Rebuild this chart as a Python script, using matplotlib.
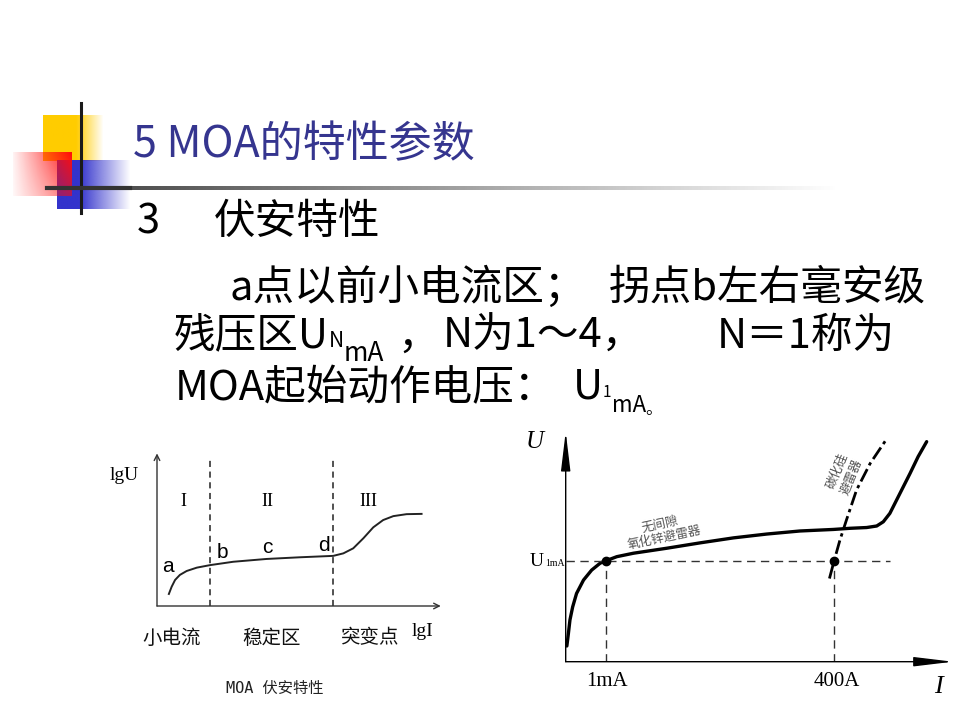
import numpy as np
import matplotlib
matplotlib.use("Agg")
import matplotlib.pyplot as plt

plt.rcParams['font.family'] = ['Noto Sans CJK SC', 'DejaVu Sans']

# left chart: MOA V-I characteristic (lgI, lgU), arbitrary units
lgI = [0.42, 0.52, 0.64, 0.81, 1.05, 1.41, 1.88, 2.70, 3.88, 5.06, 6.24,
       6.60, 6.95, 7.31, 7.66, 8.01, 8.37, 8.84, 9.37]
lgU = [0.43, 0.69, 0.93, 1.11, 1.25, 1.37, 1.46, 1.58, 1.68, 1.74, 1.79,
       1.88, 2.06, 2.42, 2.81, 3.07, 3.21, 3.28, 3.29]
region_bounds = [1.88, 6.24]
region_names = ['I', 'II', 'III']
region_x = [0.95, 3.9, 7.5]
point_names = ['a', 'b', 'c', 'd']
point_x = [0.4, 2.3, 3.9, 5.9]
point_y = [1.4, 1.9, 2.1, 2.15]
zone_names = ['小电流', '稳定区', '突变点']

# right chart: gapless ZnO arrester vs SiC arrester
I_zno = [0.03, 0.07, 0.11, 0.18, 0.28, 0.46, 0.67, 0.89, 1.03, 1.32, 1.75,
         2.61, 3.47, 4.33, 5.19, 6.05, 6.91, 7.34, 7.77, 8.03, 8.20, 8.37,
         8.63, 8.89, 9.10, 9.32]
U_zno = [0.41, 0.74, 1.09, 1.43, 1.78, 2.13, 2.39, 2.57, 2.63, 2.74, 2.83,
         2.96, 3.10, 3.23, 3.33, 3.41, 3.45, 3.48, 3.50, 3.54, 3.65, 3.87,
         4.39, 4.91, 5.35, 5.74]
I_sic = [6.81, 6.93, 7.08, 7.25, 7.51, 7.86, 8.26]
U_sic = [2.17, 2.63, 3.17, 3.70, 4.48, 5.17, 5.77]
I_1mA = 1.03
I_400A = 6.93
U_1mA = 2.63
U_line_end = 8.37

title_color = '#35358f'

fig = plt.figure(figsize=(9.6, 7.2), dpi=100)
fig.patch.set_facecolor('white')

# background layer in pixel coordinates
bg = fig.add_axes([0, 0, 1, 1])
bg.axis('off')


def grad_box(ax, x0, x1, y0, y1, rgb, a_left, a_right, solid=0.0,
             a_top=1.0, a_bot=1.0, z=1):
    nx, ny = 64, 32
    t = np.linspace(0, 1, nx)
    s = np.clip((t - solid) / (1 - solid), 0, 1)
    ax_ = (a_left + (a_right - a_left) * s)[None, :]
    ay_ = np.linspace(a_top, a_bot, ny)[:, None]
    img = np.zeros((ny, nx, 4))
    img[..., 0], img[..., 1], img[..., 2] = rgb
    img[..., 3] = np.clip(ax_ * ay_, 0, 1)
    ax.imshow(img, extent=[x0, x1, y1, y0], origin='upper', aspect='auto',
              interpolation='bilinear', zorder=z)


def after(prev, s, size, base_y, gap=0, **kw):
    # put a small text right after another one, on a given baseline (pixels)
    return bg.annotate(s, xy=(1, base_y), xycoords=(prev, 'data'),
                       xytext=(gap, 0), textcoords='offset points',
                       fontsize=size, va='baseline', ha='left', **kw)


# decorative squares
grad_box(bg, 43, 104, 115, 161, (1.0, 0.80, 0.0), 1.0, 0.0, solid=0.55, z=1)
grad_box(bg, 57, 131, 160, 209, (0.2, 0.2, 0.8), 1.0, 0.0, solid=0.3, z=2)
grad_box(bg, 13, 72, 152, 196, (1.0, 0.05, 0.05), 0.05, 1.0, 0.0, 1.0, 0.6, z=3)
bg.plot([81, 81], [103, 213], color='#1a1a1a', lw=2.2, zorder=5)
bg.plot([47, 130], [188, 188], color='#333333', lw=3, zorder=5)
# gradient rule under the title
line_img = np.ones((2, 200, 4))
line_img[..., :3] = 0.3
line_img[..., 3] = np.linspace(1.0, 0.0, 200)[None, :]
bg.imshow(line_img, extent=[120, 840, 190, 186], origin='upper', aspect='auto',
          interpolation='bilinear', zorder=4)

# slide text
fs = 30
bg.text(133, 145, '5 MOA的特性参数', fontsize=31, color=title_color, va='center')
bg.text(137, 222, '3', fontsize=fs, va='center')
bg.text(214, 222, '伏安特性', fontsize=fs, va='center')
bg.text(229, 288, 'a点以前小电流区；', fontsize=fs, va='center')
bg.text(609, 288, '拐点b左右毫安级', fontsize=fs, va='center')
t = bg.text(174, 336, '残压区U', fontsize=fs, va='center')
t = after(t, 'N', 15, 347)
t = after(t, 'mA', 19, 361)
bg.text(397, 338, '，', fontsize=fs, va='center')
bg.text(443, 336, 'N为1～4，', fontsize=fs, va='center')
bg.text(717, 336, 'N＝1称为', fontsize=fs, va='center')
bg.text(175, 389, 'MOA起始动作电压：', fontsize=fs, va='center')
t = bg.text(573, 387, 'U', fontsize=fs, va='center')
t = after(t, '1', 11, 397)
t = after(t, 'mA', 16, 412)
after(t, '。', 12, 414)

# ---- left chart ----
L = fig.add_axes([157 / 960, (720 - 606) / 720, 288 / 960, 154 / 720])
L.set_xlim(0, 10.2)
L.set_ylim(0, 5.5)
L.axis('off')
L.plot(lgI, lgU, color='#222222', lw=1.4)
for xb in region_bounds:
    L.plot([xb, xb], [0, 5.3], color='#222222', lw=1.1, ls=(0, (4, 3)))
L.annotate('', xy=(0, 5.45), xytext=(0, 0),
           arrowprops=dict(arrowstyle='->', color='#333333', lw=1.0,
                           shrinkA=0, shrinkB=0), annotation_clip=False)
L.annotate('', xy=(10.05, 0), xytext=(0, 0),
           arrowprops=dict(arrowstyle='->', color='#333333', lw=1.0,
                           shrinkA=0, shrinkB=0), annotation_clip=False)
for nm, x in zip(region_names, region_x):
    L.text(x, 3.75, nm, fontsize=13, family='Liberation Serif', ha='center', va='center')
for nm, x, y in zip(point_names, point_x, point_y):
    L.text(x, y, nm, fontsize=15, family='Liberation Sans', ha='center', va='center')

bg.text(110, 476, 'lgU', fontsize=14, family='Liberation Serif', va='center')
bg.text(423, 632, 'lgI', fontsize=14, family='Liberation Serif', ha='center', va='center')
for nm, x in zip(zone_names, [172, 272, 370]):
    bg.text(x, 638, nm, fontsize=14, family='Noto Sans CJK SC', ha='center',
            va='center', color='#111111')
bg.text(275, 688, 'MOA 伏安特性', fontsize=11, ha='center', va='center',
        family=['DejaVu Sans Mono', 'Noto Sans CJK SC'], color='#222222')

# ---- right chart ----
R = fig.add_axes([565.7 / 960, (720 - 661.7) / 720, 387.3 / 960, 230 / 720])
R.set_xlim(0, 10)
R.set_ylim(0, 6)
R.axis('off')
R.plot(I_zno, U_zno, color='black', lw=2.4, solid_capstyle='round')
R.plot(I_sic, U_sic, color='black', lw=2.0, ls=(0, (5, 1.5, 1.2, 1.5)))
R.plot([0, U_line_end], [U_1mA, U_1mA], color='#333333', lw=1.0, ls=(0, (6, 4)))
R.plot([I_1mA, I_1mA], [0, U_1mA], color='#333333', lw=1.0, ls=(0, (6, 4)))
R.plot([I_400A, I_400A], [0, U_1mA], color='#333333', lw=1.0, ls=(0, (6, 4)))
R.plot([I_1mA, I_400A], [U_1mA, U_1mA], 'o', color='black', ms=6)
arrow_style = '-|>,head_length=1.5,head_width=0.18'
R.annotate('', xy=(0, 6.0), xytext=(0, 0),
           arrowprops=dict(arrowstyle=arrow_style, color='black', lw=1.0,
                           shrinkA=0, shrinkB=0, mutation_scale=16),
           annotation_clip=False)
R.annotate('', xy=(10.0, 0), xytext=(0, 0),
           arrowprops=dict(arrowstyle=arrow_style, color='black', lw=1.0,
                           shrinkA=0, shrinkB=0, mutation_scale=16),
           annotation_clip=False)
R.text(2.43, 3.59, '无间隙', fontsize=9, rotation=12, ha='center', va='center',
       color='#555555', family='Noto Sans CJK SC')
R.text(2.54, 3.23, '氧化锌避雷器', fontsize=9, rotation=12, ha='center', va='center',
       color='#555555', family='Noto Sans CJK SC')
R.text(7.2, 4.9, '碳化硅\n避雷器', fontsize=9, rotation=68, ha='center', va='center',
       color='#555555', family='Noto Sans CJK SC', linespacing=1.2)

bg.text(535, 442, 'U', fontsize=18, family='Liberation Serif', style='italic',
        ha='center', va='center')
tu = bg.text(530, 566, 'U', fontsize=14, family='Liberation Serif', va='baseline')
after(tu, '1mA', 7, 566, gap=0.5, family='Liberation Serif')
bg.text(607, 682, '1mA', fontsize=15, family='Liberation Serif', ha='center', va='center')
bg.text(837, 682, '400A', fontsize=15, family='Liberation Serif', ha='center', va='center')
bg.text(938, 687, 'I', fontsize=19, family='Liberation Serif', style='italic',
        ha='center', va='center')

bg.set_xlim(0, 960)
bg.set_ylim(720, 0)

fig.savefig('out.png', dpi=100, facecolor='white')
